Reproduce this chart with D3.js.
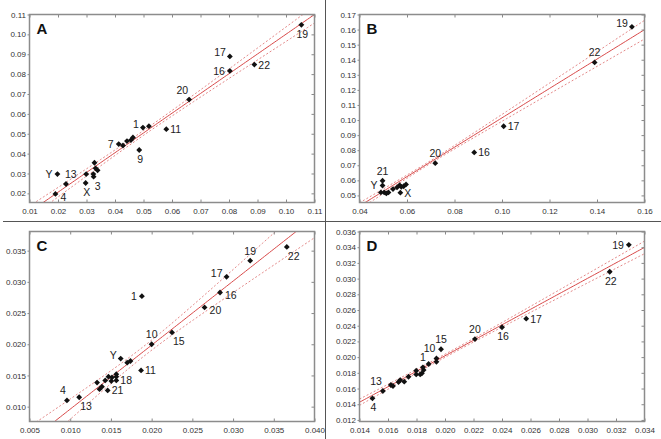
<!DOCTYPE html>
<html><head><meta charset="utf-8">
<script src="https://cdn.jsdelivr.net/npm/d3@7"></script>
<style>body{margin:0;background:#fff}svg{display:block}</style>
</head><body><svg id="chart" width="661" height="439"></svg>
<script>
// ---- Panel A ----
const aX = [0.0191, 0.0198, 0.0228, 0.0297, 0.0299, 0.0324, 0.0325, 0.0328, 0.0332, 0.0339, 0.0413, 0.0428, 0.0442, 0.0456, 0.0463, 0.0485, 0.0498, 0.0519, 0.0580, 0.0660, 0.0803, 0.0803, 0.0889, 0.1054];
const aY = [0.0197, 0.0297, 0.0247, 0.0252, 0.0297, 0.0297, 0.0284, 0.0354, 0.0326, 0.0316, 0.0448, 0.0441, 0.0463, 0.0468, 0.0481, 0.0418, 0.0531, 0.0538, 0.0523, 0.0672, 0.0889, 0.0816, 0.0848, 0.1048];
const aLabels = ["4","Y","13","X","","","3","","","","7","","","","","9","1","","11","20","17","16","22","19"];
const aPlace  = ["rd","l","tr","b","","","br","","","","l","","","","","b","lu","","r","tl","lu","l","r","b"];
const aFit  = [0.0007, 0.9937];          // intercept, slope of fitted line
const aBand = [0.050, 0.0012, 0.0688];   // centre x, half-width at centre, spread
const aXTicks = [0.01,0.02,0.03,0.04,0.05,0.06,0.07,0.08,0.09,0.10,0.11];
const aXTickLabels = ["0.01","0.02","0.03","0.04","0.05","0.06","0.07","0.08","0.09","0.10","0.11"];
const aYTicks = [0.02,0.03,0.04,0.05,0.06,0.07,0.08,0.09,0.10,0.11];
const aYTickLabels = ["0.02","0.03","0.04","0.05","0.06","0.07","0.08","0.09","0.10","0.11"];
const aXDomain = [0.01, 0.11];
const aYDomain = [0.0154, 0.11];

// ---- Panel B ----
const bX = [0.0490, 0.0497, 0.0497, 0.0504, 0.0513, 0.0522, 0.0541, 0.0558, 0.0569, 0.0576, 0.0586, 0.0596, 0.0572, 0.0719, 0.0883, 0.1007, 0.1390, 0.1547];
const bY = [0.0520, 0.0597, 0.0566, 0.0520, 0.0513, 0.0520, 0.0542, 0.0553, 0.0568, 0.0557, 0.0561, 0.0573, 0.0518, 0.0714, 0.0785, 0.0959, 0.1382, 0.1618];
const bLabels = ["","21","Y","","","","","","","","","","X","20","16","17","22","19"];
const bPlace  = ["","t","l","","","","","","","","","","r","t","r","r","t","lu"];
const bFit  = [0.0040, 0.9745];
const bBand = [0.069, 0.0009, 0.0673];
const bXTicks = [0.04,0.06,0.08,0.10,0.12,0.14,0.16];
const bXTickLabels = ["0.04","0.06","0.08","0.10","0.12","0.14","0.16"];
const bYTicks = [0.05,0.06,0.07,0.08,0.09,0.10,0.11,0.12,0.13,0.14,0.15,0.16,0.17];
const bYTickLabels = ["0.05","0.06","0.07","0.08","0.09","0.10","0.11","0.12","0.13","0.14","0.15","0.16","0.17"];
const bXDomain = [0.04, 0.16];
const bYDomain = [0.0453, 0.17];

// ---- Panel C ----
const cX = [0.0096, 0.0111, 0.0133, 0.0136, 0.0139, 0.0143, 0.0146, 0.0147, 0.01505, 0.01513, 0.01566, 0.01566, 0.01566, 0.0162, 0.0170, 0.0174, 0.0187, 0.0188, 0.0200, 0.0225, 0.0265, 0.0284, 0.0292, 0.0321, 0.0366];
const cY = [0.0110, 0.0115, 0.01386, 0.0128, 0.0132, 0.0142, 0.0126, 0.0148, 0.0141, 0.01469, 0.0152, 0.0148, 0.0142, 0.0177, 0.01705, 0.01732, 0.0158, 0.0277, 0.0200, 0.0219, 0.0259, 0.0283, 0.0308, 0.0334, 0.0356];
const cLabels = ["4","13","","","","","21","","","","","","18","Y","","","11","1","10","15","20","16","17","19","22"];
const cPlace  = ["tl","br","","","","","r","","","","","","r","lu","","","r","l","t","br","rd","rd","lu","t","br"];
const cFit  = [-0.00066, 1.026];
const cBand = [0.0192, 0.0008, 0.154];
const cXTicks = [0.005,0.010,0.015,0.020,0.025,0.030,0.035,0.040];
const cXTickLabels = ["0.005","0.010","0.015","0.020","0.025","0.030","0.035","0.040"];
const cYTicks = [0.010,0.015,0.020,0.025,0.030,0.035];
const cYTickLabels = ["0.010","0.015","0.020","0.025","0.030","0.035"];
const cXDomain = [0.005, 0.040];
const cYDomain = [0.00762, 0.03807];

// ---- Panel D ----
const dX = [0.01491, 0.01564, 0.0162, 0.01635, 0.01674, 0.01686, 0.01714, 0.01744, 0.01798, 0.01798, 0.01826, 0.01838, 0.0185, 0.01845, 0.01885, 0.0194, 0.0194, 0.01972, 0.0221, 0.0240, 0.0257, 0.03156, 0.0329];
const dY = [0.01475, 0.01568, 0.01645, 0.01632, 0.01683, 0.01708, 0.01687, 0.0175, 0.0178, 0.01826, 0.0178, 0.01793, 0.01835, 0.0187, 0.01912, 0.01984, 0.0194, 0.0210, 0.0223, 0.0238, 0.0249, 0.03087, 0.0343];
const dLabels = ["4","13","","","","","","","","","","","","1","","10","","15","20","16","17","22","19"];
const dPlace  = ["b","tl","","","","","","","","","","","","t","","tl","","t","t","b","r","b","l"];
const dFit  = [0.00045, 0.986];
const dBand = [0.0202, 0.0002, 0.056];
const dXTicks = [0.014,0.016,0.018,0.020,0.022,0.024,0.026,0.028,0.030,0.032,0.034];
const dXTickLabels = ["0.014","0.016","0.018","0.020","0.022","0.024","0.026","0.028","0.030","0.032","0.034"];
const dYTicks = [0.012,0.014,0.016,0.018,0.020,0.022,0.024,0.026,0.028,0.030,0.032,0.034,0.036];
const dYTickLabels = ["0.012","0.014","0.016","0.018","0.020","0.022","0.024","0.026","0.028","0.030","0.032","0.034","0.036"];
const dXDomain = [0.014, 0.034];
const dYDomain = [0.0118, 0.036];

const panelLetters = ["A","B","C","D"];

// ---------- drawing ----------
const svg = d3.select("#chart");
const FONT = "'Liberation Sans', Arial, sans-serif";

const panels = [
  {xs:aX, ys:aY, labels:aLabels, place:aPlace, fit:aFit, band:aBand, xt:aXTicks, xtl:aXTickLabels, yt:aYTicks, ytl:aYTickLabels, xd:aXDomain, yd:aYDomain, box:[29.5,14.5,314.5,202.5]},
  {xs:bX, ys:bY, labels:bLabels, place:bPlace, fit:bFit, band:bBand, xt:bXTicks, xtl:bXTickLabels, yt:bYTicks, ytl:bYTickLabels, xd:bXDomain, yd:bYDomain, box:[359.5,14.5,644.5,202.5]},
  {xs:cX, ys:cY, labels:cLabels, place:cPlace, fit:cFit, band:cBand, xt:cXTicks, xtl:cXTickLabels, yt:cYTicks, ytl:cYTickLabels, xd:cXDomain, yd:cYDomain, box:[29.5,231.5,314.5,421.5]},
  {xs:dX, ys:dY, labels:dLabels, place:dPlace, fit:dFit, band:dBand, xt:dXTicks, xtl:dXTickLabels, yt:dYTicks, ytl:dYTickLabels, xd:dXDomain, yd:dYDomain, box:[359.5,231.5,644.5,421.5]}
];

// panel dividers
svg.append("line").attr("x1",3).attr("x2",661).attr("y1",221.5).attr("y2",221.5).attr("stroke","#555").attr("stroke-width",1);
svg.append("line").attr("x1",325.5).attr("x2",325.5).attr("y1",0).attr("y2",439).attr("stroke","#555").attr("stroke-width",1);

const placeMap = {
  r:  {a:"start",  dx:4,  dy:4},
  rd: {a:"start",  dx:5,  dy:7},
  l:  {a:"end",    dx:-5, dy:4},
  lu: {a:"end",    dx:-4, dy:0},
  t:  {a:"middle", dx:0,  dy:-6},
  b:  {a:"middle", dx:1,  dy:13},
  tl: {a:"end",    dx:-1, dy:-6},
  tr: {a:"start",  dx:-1, dy:-6},
  br: {a:"start",  dx:1,  dy:13}
};

panels.forEach((p, pi) => {
  const [x0,y0,x1,y1] = p.box;
  const x = d3.scaleLinear().domain(p.xd).range([x0,x1]);
  const y = d3.scaleLinear().domain(p.yd).range([y1,y0]);
  const g = svg.append("g");

  const clipId = "clip"+pi;
  svg.append("defs").append("clipPath").attr("id",clipId)
    .append("rect").attr("x",x0).attr("y",y0).attr("width",x1-x0).attr("height",y1-y0);

  // fitted line + confidence band
  const [ia, sb] = p.fit;
  const [xm, h0, c] = p.band;
  const grid = d3.range(0,121).map(i => p.xd[0] + (p.xd[1]-p.xd[0])*i/120);
  const half = v => Math.sqrt(h0*h0 + c*c*(v-xm)*(v-xm));
  const line = d3.line().x(d=>x(d[0])).y(d=>y(d[1]));
  const rg = g.append("g").attr("clip-path","url(#"+clipId+")");
  [1,-1].forEach(sg => {
    rg.append("path").attr("d", line(grid.map(v=>[v, ia+sb*v+sg*half(v)])))
      .attr("fill","none").attr("stroke","#e07a7a").attr("stroke-width",0.9).attr("stroke-dasharray","2,2");
  });
  rg.append("path").attr("d", line(grid.map(v=>[v, ia+sb*v])))
    .attr("fill","none").attr("stroke","#d84a4a").attr("stroke-width",1);

  // axes
  const fmt = (arr, lab) => (d => lab[arr.indexOf(d)]);
  const axL = g.append("g").attr("transform",`translate(${x0},0)`)
    .call(d3.axisLeft(y).tickValues(p.yt).tickFormat(fmt(p.yt,p.ytl)).tickSizeInner(2).tickSizeOuter(0).tickPadding(1.5));
  const axB = g.append("g").attr("transform",`translate(0,${y1})`)
    .call(d3.axisBottom(x).tickValues(p.xt).tickFormat(fmt(p.xt,p.xtl)).tickSizeInner(-3).tickSizeOuter(0).tickPadding(5.5));
  const axT = g.append("g").attr("transform",`translate(0,${y0})`)
    .call(d3.axisTop(x).tickValues(p.xt).tickFormat("").tickSizeInner(-3).tickSizeOuter(0));
  const axR = g.append("g").attr("transform",`translate(${x1},0)`)
    .call(d3.axisRight(y).tickValues(p.yt).tickFormat("").tickSizeInner(-3).tickSizeOuter(0));
  [axL,axB,axT,axR].forEach(a => {
    a.select(".domain").remove();
    a.selectAll(".tick line").attr("stroke","#888");
    a.selectAll("text").attr("font-family",FONT).attr("font-size",8).attr("fill","#333");
  });

  // frame
  g.append("rect").attr("x",x0).attr("y",y0).attr("width",x1-x0).attr("height",y1-y0)
    .attr("fill","none").attr("stroke","#8c8c8c").attr("stroke-width",1.5);

  // points: filled diamonds (rotated squares)
  const sym = d3.symbol().type(d3.symbolSquare).size(17);
  g.selectAll("path.pt").data(p.xs.map((v,i)=>[v,p.ys[i]])).join("path")
    .attr("class","pt").attr("d",sym)
    .attr("transform",d=>`translate(${x(d[0])},${y(d[1])}) rotate(45)`)
    .attr("fill","#111");

  // point labels
  p.labels.forEach((lab,i) => {
    if(!lab) return;
    const pm = placeMap[p.place[i]];
    g.append("text").attr("x", x(p.xs[i])+pm.dx).attr("y", y(p.ys[i])+pm.dy)
      .attr("text-anchor", pm.a).attr("font-family",FONT).attr("font-size",10.5).attr("fill","#222")
      .text(lab);
  });

  // panel letter
  g.append("text").attr("x",x0+7).attr("y",y0+19).attr("font-family",FONT)
    .attr("font-weight","bold").attr("font-size",15).attr("fill","#111").text(panelLetters[pi]);
});
</script>
</body></html>
